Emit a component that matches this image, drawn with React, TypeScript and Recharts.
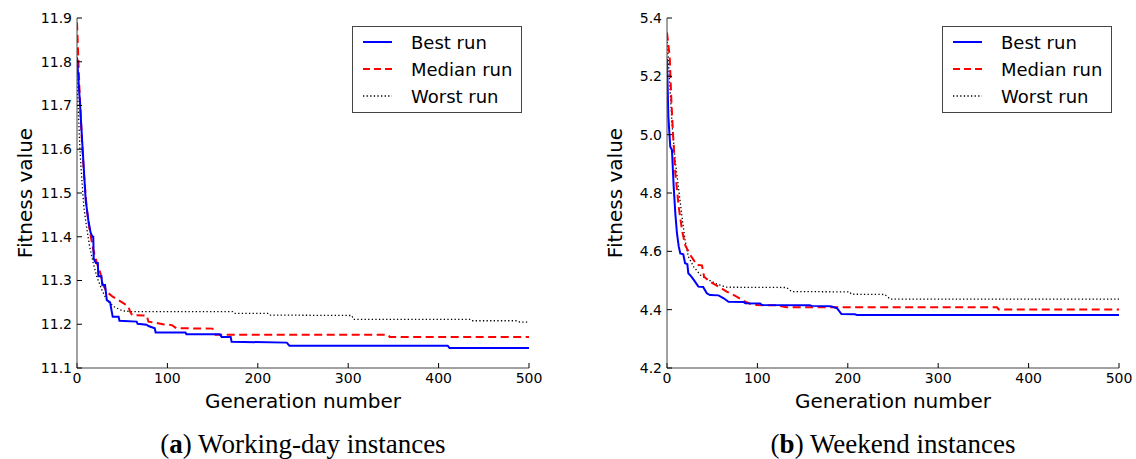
import React from 'react';
import { LineChart, Line, XAxis, YAxis } from 'recharts';

// ---- data ----
const genTicks = [0, 100, 200, 300, 400, 500];
const workTicks = [11.1, 11.2, 11.3, 11.4, 11.5, 11.6, 11.7, 11.8, 11.9];
const weekTicks = [4.2, 4.4, 4.6, 4.8, 5.0, 5.2, 5.4];
const seriesNames = ['Best run', 'Median run', 'Worst run'];
const seriesColors = ['#0000ff', '#ff0000', '#000000'];

// [generation, fitness]
const workBest = [
  [0, 11.81], [3.3, 11.705], [6.3, 11.598], [9.6, 11.484], [12.5, 11.438], [15, 11.41], [17, 11.4], [18, 11.4],
  [18.5, 11.35], [21, 11.34], [23, 11.34], [23.6, 11.31], [27, 11.31], [28, 11.29], [31, 11.29], [33, 11.255],
  [36.6, 11.25], [39.5, 11.217], [46, 11.217], [47, 11.208], [66, 11.206], [67, 11.201], [77, 11.199], [79, 11.196],
  [86, 11.191], [87, 11.181], [120, 11.181], [121, 11.177], [158, 11.177], [160, 11.171], [170, 11.171], [171, 11.16],
  [232, 11.158], [235, 11.151], [410, 11.151], [412, 11.146], [500, 11.146],
];
const workMedian = [
  [0, 11.89], [2.6, 11.743], [5, 11.637], [7.6, 11.545], [10.6, 11.468], [14, 11.415], [18, 11.37], [22, 11.34],
  [25.8, 11.317], [28.7, 11.29], [33, 11.274], [39.5, 11.263], [46, 11.255], [53, 11.246], [57, 11.24], [58.7, 11.229],
  [61, 11.221], [77, 11.22], [79, 11.206], [86, 11.204], [95, 11.2], [105, 11.198], [110, 11.191], [150, 11.19],
  [153, 11.176], [344, 11.176], [346, 11.171], [500, 11.171],
];
const workWorst = [
  [0, 11.76], [3.3, 11.598], [5, 11.54], [7.6, 11.468], [10.6, 11.422], [14, 11.377], [18, 11.34], [22, 11.308],
  [27.6, 11.278], [33, 11.255], [41, 11.24], [50, 11.231], [59, 11.229], [172, 11.229], [174, 11.225], [211, 11.225],
  [213, 11.221], [304, 11.22], [306, 11.211], [435, 11.211], [437, 11.208], [486, 11.208], [490, 11.205], [500, 11.205],
];
const weekBest = [
  [0, 5.26], [1.5, 5.062], [3.6, 4.959], [5.5, 4.947], [7.4, 4.822], [9.2, 4.73], [11, 4.662], [13, 4.616],
  [14.7, 4.593], [18, 4.59], [20, 4.559], [22.5, 4.556], [23.6, 4.525], [27, 4.513], [31, 4.496], [34.7, 4.479],
  [40, 4.478], [44, 4.456], [47.6, 4.45], [57, 4.449], [62.7, 4.439], [68, 4.427], [85, 4.426], [86.7, 4.422],
  [103, 4.421], [105, 4.416], [158, 4.415], [160, 4.413], [181, 4.412], [188, 4.405], [193, 4.385], [208, 4.384],
  [210, 4.382], [500, 4.382],
];
const weekMedian = [
  [0, 5.35], [3, 5.267], [4.8, 5.119], [6.6, 5.005], [9.2, 4.868], [13, 4.752], [16.6, 4.673], [20, 4.622],
  [25.8, 4.587], [29.5, 4.57], [33, 4.553], [38.7, 4.552], [41, 4.513], [47.6, 4.496], [57, 4.479], [66, 4.462],
  [77, 4.445], [86.7, 4.427], [95, 4.416], [121, 4.415], [132, 4.408], [365, 4.408], [367, 4.401], [500, 4.401],
];
const weekWorst = [
  [0, 5.33], [3, 5.177], [5.5, 5.04], [9, 4.913], [13, 4.81], [16.6, 4.718], [20, 4.639], [23.6, 4.582],
  [29.5, 4.547], [36.9, 4.519], [46, 4.502], [55, 4.488], [66, 4.477], [132, 4.476], [138, 4.462], [202, 4.461],
  [204, 4.453], [241, 4.452], [247, 4.436], [500, 4.436],
];

const toRows = (pairs: number[][]) => pairs.map(([gen, v]) => ({ gen, v }));

const FONT = "'DejaVu Sans', sans-serif";
const AXIS = '#444';

type PanelProps = {
  left: number;
  marginLeft: number;
  marginRight: number;
  yDomain: [number, number];
  yTicks: number[];
  series: number[][][];
  legendLeft: number;
  yLabelX: number;
};

function Legend({ left }: { left: number }) {
  return (
    <svg
      width={170}
      height={87}
      style={{ position: 'absolute', left, top: 26, background: '#fff' }}
    >
      <rect x={0.5} y={0.5} width={169} height={86} fill="#fff" stroke="#444" strokeWidth={1} />
      {seriesNames.map((name, i) => {
        const cy = 16 + i * 27;
        const dash = i === 1 ? '7 4' : i === 2 ? '1.3 2.3' : undefined;
        return (
          <g key={name}>
            <line
              x1={11}
              x2={40}
              y1={cy}
              y2={cy}
              stroke={seriesColors[i]}
              strokeWidth={i === 2 ? 1.3 : 2}
              strokeDasharray={dash}
            />
            <text x={59} y={cy + 6.5} fontSize={18} fontFamily={FONT} fill="#000">
              {name}
            </text>
          </g>
        );
      })}
    </svg>
  );
}

function Panel({ left, marginLeft, marginRight, yDomain, yTicks, series, legendLeft, yLabelX }: PanelProps) {
  return (
    <div style={{ position: 'absolute', left, top: 0, width: 568, height: 459 }}>
      <LineChart width={568} height={459} margin={{ top: 18, right: marginRight, bottom: 61, left: marginLeft }}>
        <XAxis
          dataKey="gen"
          type="number"
          domain={[0, 500]}
          ticks={genTicks}
          allowDataOverflow
          height={30}
          tickSize={-5}
          tickMargin={10}
          stroke={AXIS}
          tick={{ fill: '#000', fontSize: 14, fontFamily: FONT }}
          tickLine={{ stroke: '#000' }}
          label={{
            content: (p: any) => {
              const vb = p.viewBox || {};
              return (
                <text x={vb.x + vb.width / 2} y={408} textAnchor="middle" fontSize={20} fontFamily={FONT} fill="#000">
                  Generation number
                </text>
              );
            },
          }}
        />
        <XAxis
          xAxisId="top"
          orientation="top"
          dataKey="gen"
          type="number"
          domain={[0, 500]}
          ticks={genTicks}
          allowDataOverflow
          height={0}
          tickSize={-5}
          tick={false}
          stroke={AXIS}
          tickLine={{ stroke: '#000' }}
        />
        <YAxis
          type="number"
          domain={yDomain}
          ticks={yTicks}
          allowDataOverflow
          width={60}
          tickSize={-5}
          tickMargin={10}
          stroke={AXIS}
          tickFormatter={(v: number) => v.toFixed(1)}
          tick={{ fill: '#000', fontSize: 14, fontFamily: FONT }}
          tickLine={{ stroke: '#000' }}
          label={{
            content: (p: any) => {
              const vb = p.viewBox || {};
              const cy = vb.y + vb.height / 2;
              return (
                <text
                  x={yLabelX}
                  y={cy}
                  transform={`rotate(-90 ${yLabelX} ${cy})`}
                  textAnchor="middle"
                  fontSize={20}
                  fontFamily={FONT}
                  fill="#000"
                >
                  Fitness value
                </text>
              );
            },
          }}
        />
        <YAxis
          yAxisId="right"
          orientation="right"
          type="number"
          domain={yDomain}
          ticks={yTicks}
          allowDataOverflow
          width={0}
          tickSize={-5}
          tick={false}
          stroke={AXIS}
          tickLine={{ stroke: '#000' }}
        />
        <Line
          data={toRows(series[2])}
          dataKey="v"
          stroke="#000"
          strokeWidth={1.3}
          strokeDasharray="1.3 2.3"
          dot={false}
          activeDot={false}
          isAnimationActive={false}
        />
        <Line
          data={toRows(series[1])}
          dataKey="v"
          stroke="#ff0000"
          strokeWidth={2}
          strokeDasharray="8 4.5"
          dot={false}
          activeDot={false}
          isAnimationActive={false}
        />
        <Line
          data={toRows(series[0])}
          dataKey="v"
          stroke="#0000ff"
          strokeWidth={2}
          dot={false}
          activeDot={false}
          isAnimationActive={false}
        />
      </LineChart>
      <Legend left={legendLeft} />
    </div>
  );
}

export default function App() {
  return (
    <div style={{ position: 'absolute', left: 0, top: 0, width: 1136, height: 459, background: '#fff', overflow: 'hidden' }}>
      <Panel
        left={0}
        marginLeft={17}
        marginRight={39}
        yDomain={[11.1, 11.9]}
        yTicks={workTicks}
        series={[workBest, workMedian, workWorst]}
        legendLeft={352}
        yLabelX={32}
      />
      <Panel
        left={568}
        marginLeft={39}
        marginRight={17}
        yDomain={[4.2, 5.4]}
        yTicks={weekTicks}
        series={[weekBest, weekMedian, weekWorst]}
        legendLeft={374}
        yLabelX={54}
      />
      <svg width={1136} height={459} style={{ position: 'absolute', left: 0, top: 0, pointerEvents: 'none' }}>
        <text x={303} y={453} textAnchor="middle" fontSize={27} fontFamily="'Liberation Serif', serif" fill="#000">
          (<tspan fontWeight="bold">a</tspan>) Working-day instances
        </text>
        <text x={893} y={453} textAnchor="middle" fontSize={27} fontFamily="'Liberation Serif', serif" fill="#000">
          (<tspan fontWeight="bold">b</tspan>) Weekend instances
        </text>
      </svg>
    </div>
  );
}
